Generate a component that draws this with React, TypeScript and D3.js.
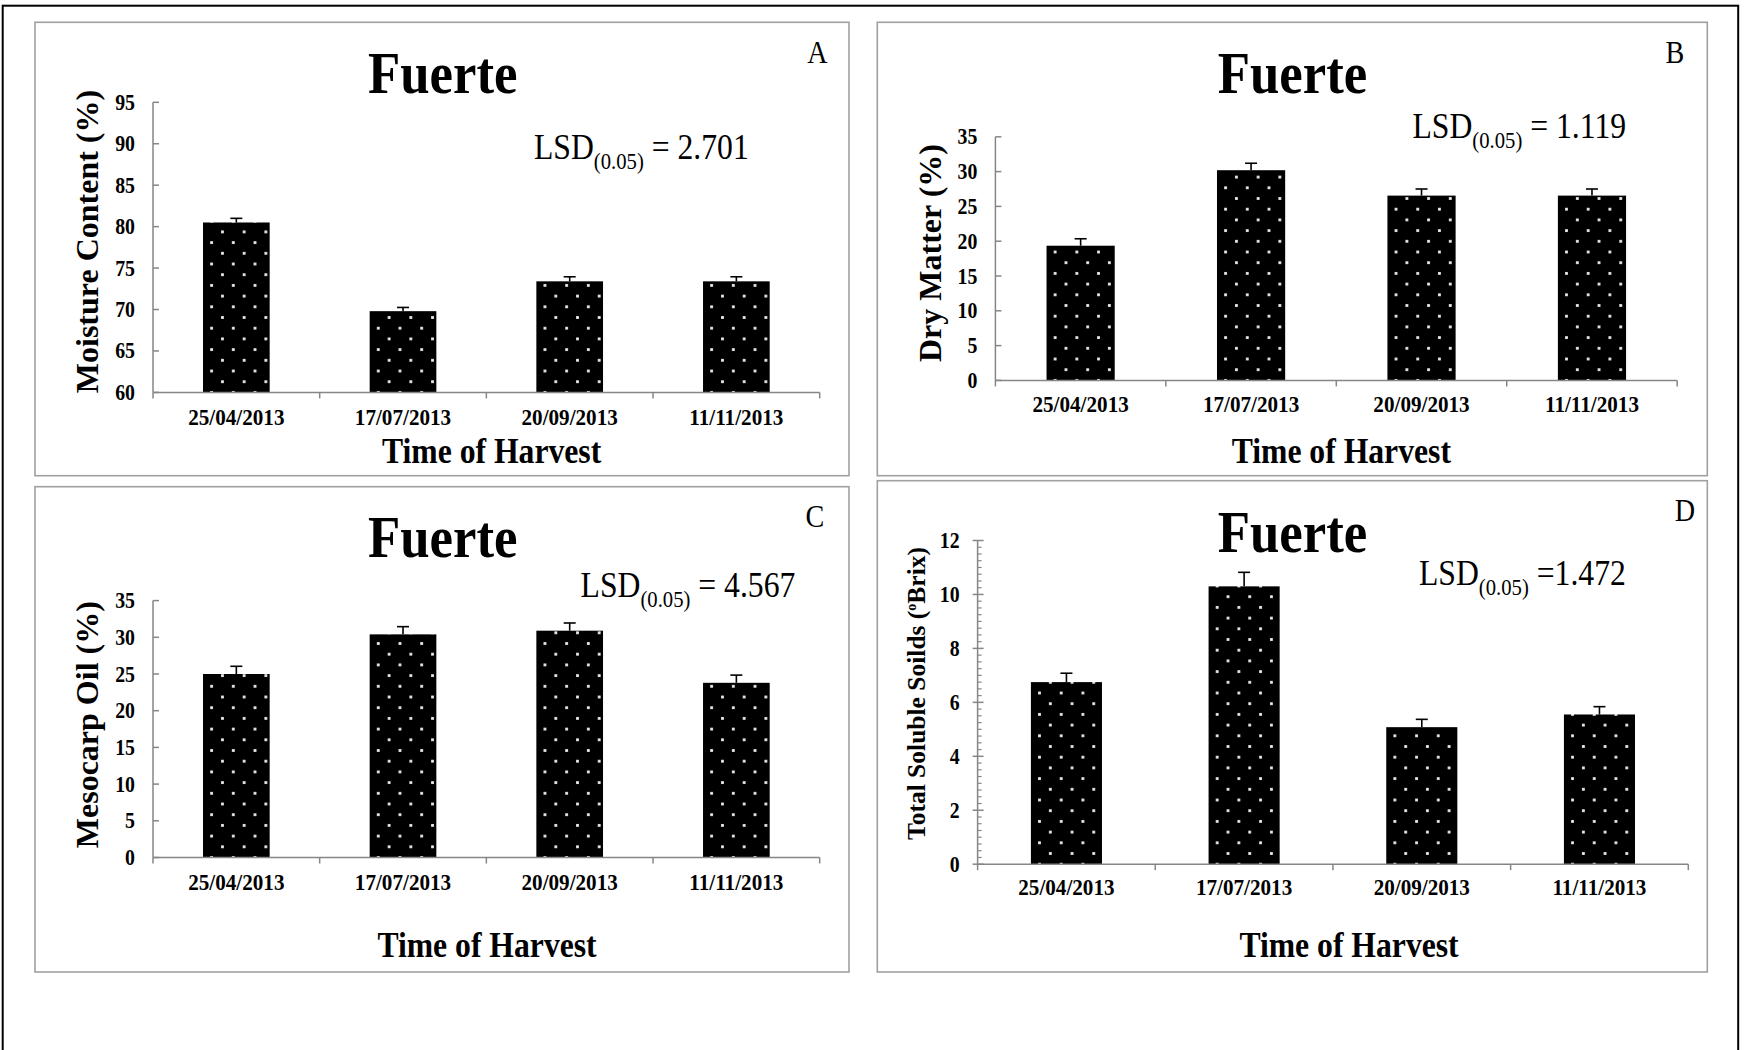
import React from 'react';
import * as d3 from 'd3';

// Harvest dates shared by every panel
const harvestDates = ['25/04/2013', '17/07/2013', '20/09/2013', '11/11/2013'];

// A: moisture content (%)
const moistureContent = [80.5, 69.8, 73.4, 73.4];
const moistureErr = [0.5, 0.45, 0.55, 0.55];
const moistureTicks = [60, 65, 70, 75, 80, 85, 90, 95];

// B: dry matter (%)
const dryMatter = [19.35, 30.2, 26.55, 26.55];
const dryMatterErr = [1.0, 1.0, 0.95, 0.95];
const dryMatterTicks = [0, 5, 10, 15, 20, 25, 30, 35];

// C: mesocarp oil (%)
const mesocarpOil = [25.0, 30.4, 30.9, 23.8];
const mesocarpOilErr = [1.05, 1.05, 1.05, 1.05];
const mesocarpOilTicks = [0, 5, 10, 15, 20, 25, 30, 35];

// D: total soluble solids (°Brix)
const solubleSolids = [6.75, 10.3, 5.08, 5.55];
const solubleSolidsErr = [0.33, 0.52, 0.29, 0.29];
const solubleSolidsTicks = [0, 2, 4, 6, 8, 10, 12];

const lsdValues = ['= 2.701', '= 1.119', '= 4.567', '=1.472'];

const FONT = "'Liberation Serif', 'Times New Roman', Times, serif";
const SX = 0.88;
const AXIS = '#868686';
const FRAME = '#a0a0a0';

type TxtProps = {
  x: number; y: number; size: number; bold?: boolean; sx?: number;
  anchor?: 'start' | 'middle' | 'end'; rotate?: boolean; children: React.ReactNode;
};

function Txt({ x, y, size, bold, sx = SX, anchor = 'start', rotate, children }: TxtProps) {
  const tf = rotate
    ? `translate(${x},${y}) rotate(-90) scale(1,${sx})`
    : `translate(${x},${y}) scale(${sx},1)`;
  return (
    <text transform={tf} fontFamily={FONT} fontSize={size}
      fontWeight={bold ? 'bold' : 'normal'} textAnchor={anchor} fill="#000">
      {children}
    </text>
  );
}

type PanelProps = {
  id: string;
  frame: [number, number, number, number];
  left: number; right: number; top: number; bottom: number;
  domain: [number, number];
  ticks: number[];
  minorStep?: number;
  values: number[];
  errs: number[];
  title: [number, number];
  letter: string; letterPos: [number, number];
  lsd: string; lsdPos: [number, number];
  yLabel: React.ReactNode; yLabelPos: [number, number]; yLabelSize: number;
  dateBaseline: number;
  xTitlePos: [number, number];
};

function Panel(p: PanelProps) {
  const x = d3.scaleBand<string>().domain(harvestDates).range([p.left, p.right])
    .paddingInner(0.6).paddingOuter(0.3);
  const y = d3.scaleLinear().domain(p.domain).range([p.bottom, p.top]);
  const step = x.step();
  const bw = x.bandwidth();
  const tileW = 21.7;
  const tileH = 21.4;
  const dot = 2.8;
  const boundaries = d3.range(harvestDates.length + 1).map((i) => p.left + i * step);
  const minors = p.minorStep
    ? d3.range(p.domain[0], p.domain[1] + 1e-9, p.minorStep).filter((v) => !p.ticks.some((t) => Math.abs(t - v) < 1e-6))
    : [];
  const [fx0, fy0, fx1, fy1] = p.frame;

  return (
    <g>
      <defs>
        {harvestDates.map((d, i) => (
          <pattern key={d} id={`dots-${p.id}-${i}`} patternUnits="userSpaceOnUse"
            width={tileW} height={tileH} x={(x(d) as number) + 8.6 - tileW / 4} y={p.bottom - tileH / 4}>
            <rect width={tileW} height={tileH} fill="#000" />
            <rect x={tileW / 4 - dot / 2} y={tileH / 4 - dot / 2} width={dot} height={dot} fill="#eeeeee" />
            <rect x={(3 * tileW) / 4 - dot / 2} y={(3 * tileH) / 4 - dot / 2} width={dot} height={dot} fill="#eeeeee" />
          </pattern>
        ))}
      </defs>
      <rect x={fx0} y={fy0} width={fx1 - fx0} height={fy1 - fy0} fill="#fff" stroke={FRAME} strokeWidth={1.6} />

      {/* bars */}
      {harvestDates.map((d, i) => (
        <rect key={d} x={x(d)} y={y(p.values[i])} width={bw} height={p.bottom - y(p.values[i])}
          fill={`url(#dots-${p.id}-${i})`} />
      ))}

      {/* error bars (upper half) */}
      {harvestDates.map((d, i) => {
        const cx = (x(d) as number) + bw / 2;
        const yTop = y(p.values[i] + p.errs[i]);
        return (
          <g key={d} stroke="#000" strokeWidth={1.6}>
            <line x1={cx} x2={cx} y1={y(p.values[i])} y2={yTop} />
            <line x1={cx - 6} x2={cx + 6} y1={yTop} y2={yTop} />
          </g>
        );
      })}

      {/* y axis */}
      <line x1={p.left} x2={p.left} y1={p.top} y2={p.bottom} stroke={AXIS} strokeWidth={1.5} />
      {p.ticks.map((t) => (
        <g key={t}>
          <line x1={p.minorStep ? p.left - 5 : p.left} x2={p.left + 6} y1={y(t)} y2={y(t)} stroke={AXIS} strokeWidth={1.5} />
          <Txt x={p.left - 18} y={y(t) + 7.5} size={22.5} bold anchor="end">{t}</Txt>
        </g>
      ))}
      {minors.map((m) => (
        <line key={m} x1={p.left} x2={p.left + 4} y1={y(m)} y2={y(m)} stroke={AXIS} strokeWidth={1.2} />
      ))}

      {/* x axis */}
      <line x1={p.left} x2={p.right} y1={p.bottom} y2={p.bottom} stroke={AXIS} strokeWidth={1.5} />
      {boundaries.map((b, i) => (
        <line key={i} x1={b} x2={b} y1={p.bottom} y2={p.bottom + 6} stroke={AXIS} strokeWidth={1.5} />
      ))}
      {harvestDates.map((d) => (
        <Txt key={d} x={(x(d) as number) + bw / 2} y={p.dateBaseline} size={23} sx={0.92} bold anchor="middle">{d}</Txt>
      ))}

      {/* titles and labels */}
      <Txt x={p.title[0]} y={p.title[1]} size={60} bold anchor="middle">Fuerte</Txt>
      <Txt x={p.letterPos[0]} y={p.letterPos[1]} size={32} anchor="middle">{p.letter}</Txt>
      <Txt x={p.lsdPos[0]} y={p.lsdPos[1]} size={36}>
        LSD<tspan dy={10} fontSize={23.5}>(0.05)</tspan><tspan dy={-10} fontSize={36}> {p.lsd}</tspan>
      </Txt>
      <Txt x={p.yLabelPos[0]} y={p.yLabelPos[1]} size={p.yLabelSize} sx={1} bold anchor="middle" rotate>{p.yLabel}</Txt>
      <Txt x={p.xTitlePos[0]} y={p.xTitlePos[1]} size={36} bold anchor="middle">Time of Harvest</Txt>
    </g>
  );
}

export default function App() {
  return (
    <svg width={1744} height={1050} style={{ position: 'fixed', left: 0, top: 0, background: '#fff' }}>
      <rect x={0} y={0} width={1744} height={1050} fill="#fff" />
      <rect x={2.7} y={5.7} width={1735.5} height={1100} fill="none" stroke="#000" strokeWidth={2} />

      <Panel id="a" frame={[35, 22.3, 849, 475.7]}
        left={153} right={819.7} top={102.3} bottom={392.4}
        domain={[60, 95]} ticks={moistureTicks}
        values={moistureContent} errs={moistureErr}
        title={[442.7, 93.4]} letter="A" letterPos={[817.5, 63.4]}
        lsd={lsdValues[0]} lsdPos={[534, 159]}
        yLabel="Moisture Content (%)" yLabelPos={[98, 241.5]} yLabelSize={32}
        dateBaseline={425} xTitlePos={[491.6, 462.7]} />

      <Panel id="b" frame={[877.3, 22.3, 1707.3, 475.7]}
        left={995.4} right={1677.2} top={136.8} bottom={380.4}
        domain={[0, 35]} ticks={dryMatterTicks}
        values={dryMatter} errs={dryMatterErr}
        title={[1292.4, 93.4]} letter="B" letterPos={[1675, 63.3]}
        lsd={lsdValues[1]} lsdPos={[1412.5, 138]}
        yLabel="Dry Matter (%)" yLabelPos={[941, 253]} yLabelSize={32}
        dateBaseline={411.5} xTitlePos={[1341.3, 462.7]} />

      <Panel id="c" frame={[35, 486.7, 849, 972]}
        left={153} right={819.7} top={600.6} bottom={857.5}
        domain={[0, 35]} ticks={mesocarpOilTicks}
        values={mesocarpOil} errs={mesocarpOilErr}
        title={[442.7, 557]} letter="C" letterPos={[815, 527]}
        lsd={lsdValues[2]} lsdPos={[580.6, 597]}
        yLabel="Mesocarp Oil (%)" yLabelPos={[98, 724.7]} yLabelSize={32}
        dateBaseline={889.8} xTitlePos={[487, 956.5]} />

      <Panel id="d" frame={[877.3, 480.7, 1707.3, 972]}
        left={977.6} right={1688.3} top={540.5} bottom={864.2}
        domain={[0, 12]} ticks={solubleSolidsTicks} minorStep={0.25}
        values={solubleSolids} errs={solubleSolidsErr}
        title={[1292.4, 551.6]} letter="D" letterPos={[1685, 521]}
        lsd={lsdValues[3]} lsdPos={[1419, 585]}
        yLabel={<>Total Soluble Soilds (<tspan dy={-9} fontSize={14}>o</tspan><tspan dy={9}>Brix)</tspan></>}
        yLabelPos={[925, 693.5]} yLabelSize={25.5}
        dateBaseline={895.3} xTitlePos={[1349, 956.5]} />
    </svg>
  );
}
